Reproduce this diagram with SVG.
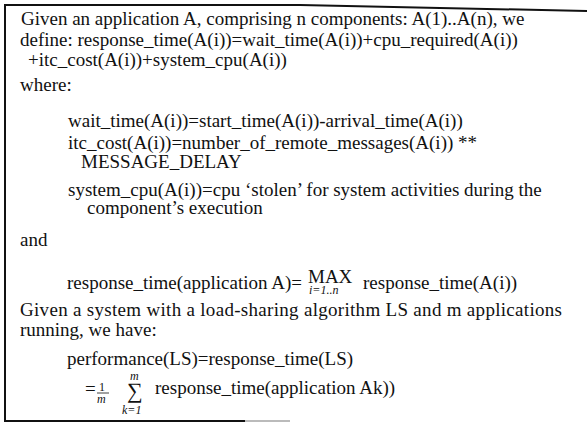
<svg xmlns="http://www.w3.org/2000/svg" width="588" height="426" viewBox="0 0 588 426">
<style>
text{font-family:"Liberation Serif","Times New Roman",serif;font-size:19px;fill:#111}
.sm{font-size:12px}
.it{font-style:italic}
.frame{stroke:#111;stroke-width:2;fill:none}
</style>
<rect width="588" height="426" fill="#fff"/>
<g id="frame">
<polyline class="frame" points="5,5 300,5 587,11"/>
<line class="frame" x1="5" y1="4" x2="5" y2="422"/>
<line class="frame" x1="4" y1="421" x2="245" y2="421"/>
<line x1="245" y1="421" x2="290" y2="421" stroke="#bbb" stroke-width="2"/>
</g>
<g id="text">
<text x="21" y="25">Given an application A, comprising n components: A(1)..A(n), we</text>
<text x="20" y="46">define: response_time(A(i))=wait_time(A(i))+cpu_required(A(i))</text>
<text x="28" y="66">+itc_cost(A(i))+system_cpu(A(i))</text>
<text x="20" y="91">where:</text>
<text x="68" y="127">wait_time(A(i))=start_time(A(i))-arrival_time(A(i))</text>
<text x="68" y="149">itc_cost(A(i))=number_of_remote_messages(A(i)) **</text>
<text x="81" y="168">MESSAGE_DELAY</text>
<text x="68" y="196">system_cpu(A(i))=cpu ‘stolen’ for system activities during the</text>
<text x="87" y="214">component’s execution</text>
<text x="20" y="246">and</text>
<text x="67" y="289">response_time(application A)=</text>
<text x="308" y="283">MAX</text>
<text class="sm it" x="309" y="294">i=1..n</text>
<text x="363" y="289">response_time(A(i))</text>
<text x="20" y="316" textLength="542" lengthAdjust="spacing">Given a system with a load-sharing algorithm LS and m applications</text>
<text x="20" y="336">running, we have:</text>
<text x="67" y="365">performance(LS)=response_time(LS)</text>
<text x="85" y="395">=</text>
<text class="sm" x="99" y="391">1</text>
<line x1="97" y1="393" x2="109" y2="393" stroke="#111" stroke-width="0.8"/>
<text class="sm it" x="97" y="403">m</text>
<text class="sm it" x="130" y="380">m</text>
<text x="127" y="398" style="font-size:22px">∑</text>
<text class="sm it" x="122" y="414">k=1</text>
<text x="155" y="394">response_time(application Ak))</text>
</g>
</svg>
